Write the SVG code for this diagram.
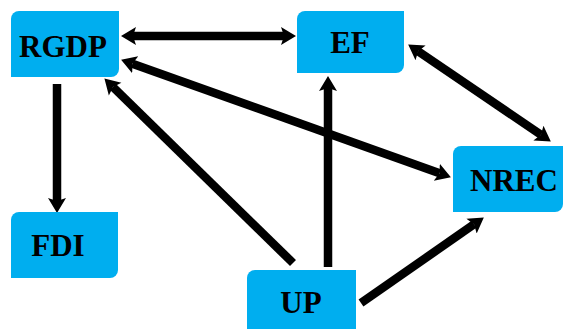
<svg xmlns="http://www.w3.org/2000/svg" width="564" height="329" viewBox="0 0 564 329">
  <style>
    .box { fill: #00AEEF; }
    .lbl { font-family: "Liberation Serif", "Times New Roman", serif; font-weight: bold; font-size: 31px; fill: #000; text-anchor: middle; }
    .arr { stroke: #000; stroke-width: 8.5; fill: none; }
  </style>
  <defs>
    <marker id="head" markerUnits="userSpaceOnUse" markerWidth="16" markerHeight="20" viewBox="0 0 16 20" refX="3" refY="10" orient="auto-start-reverse">
      <path d="M0,1 L15,10 L0,19 L3,10 Z" fill="#000"/>
    </marker>
  </defs>
  <rect width="564" height="329" fill="#fff"/>
  <g id="connectors">
    <line class="arr" x1="133" y1="36" x2="284" y2="36" marker-start="url(#head)" marker-end="url(#head)"/>
    <line class="arr" x1="57" y1="84" x2="57" y2="201" marker-end="url(#head)"/>
    <line class="arr" x1="293" y1="263" x2="113" y2="87" marker-end="url(#head)"/>
    <line class="arr" x1="328" y1="267" x2="328" y2="88" marker-end="url(#head)"/>
    <line class="arr" x1="132.4" y1="63.7" x2="439.6" y2="173.3" marker-start="url(#head)" marker-end="url(#head)"/>
    <line class="arr" x1="418.1" y1="51.2" x2="540.9" y2="134.8" marker-start="url(#head)" marker-end="url(#head)"/>
    <line class="arr" x1="361" y1="303" x2="474" y2="224.3" marker-end="url(#head)"/>
  </g>
  <g id="RGDP">
    <path class="box" d="M19,11 H119 V69 A8,8 0 0 1 111,77 H11 V19 A8,8 0 0 1 19,11 Z"/>
    <text class="lbl" x="63" y="57">RGDP</text>
  </g>
  <g id="EF">
    <path class="box" d="M305,11 H404 V65 A8,8 0 0 1 396,73 H297 V19 A8,8 0 0 1 305,11 Z"/>
    <text class="lbl" x="350" y="53">EF</text>
  </g>
  <g id="FDI">
    <path class="box" d="M19,212 H118 V270 A8,8 0 0 1 110,278 H11 V220 A8,8 0 0 1 19,212 Z"/>
    <text class="lbl" x="58" y="256">FDI</text>
  </g>
  <g id="NREC">
    <path class="box" d="M461,146 H563 V204 A8,8 0 0 1 555,212 H453 V154 A8,8 0 0 1 461,146 Z"/>
    <text class="lbl" x="514" y="191">NREC</text>
  </g>
  <g id="UP">
    <path class="box" d="M255,270 H356 V332 A8,8 0 0 1 348,340 H247 V278 A8,8 0 0 1 255,270 Z"/>
    <text class="lbl" x="301" y="313">UP</text>
  </g>
</svg>
